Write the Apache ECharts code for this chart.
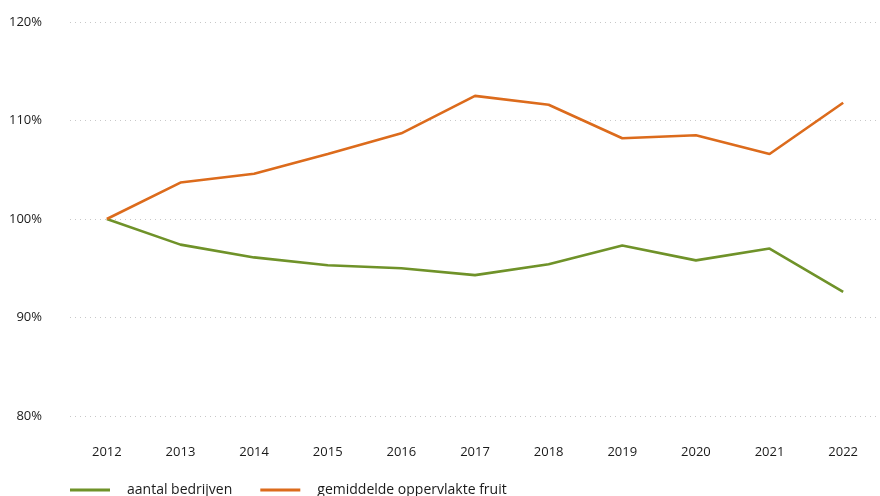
<!DOCTYPE html>
<html>
<head>
<meta charset="utf-8">
<script src="https://cdn.jsdelivr.net/npm/echarts@6/dist/echarts.min.js"></script>
<style>
  html, body { margin: 0; padding: 0; background: #fff; }
  #chart { width: 880px; height: 496px; }
</style>
</head>
<body>
<div id="chart"></div>
<script>
  const years = ['2012', '2013', '2014', '2015', '2016', '2017', '2018', '2019', '2020', '2021', '2022'];
  const bedrijven = [100, 97.4, 96.1, 95.3, 95.0, 94.3, 95.4, 97.3, 95.8, 97.0, 92.6];
  const oppervlakte = [100, 103.7, 104.6, 106.6, 108.7, 112.5, 111.6, 108.2, 108.5, 106.6, 111.8];

  const font = '"Open Sans", "Noto Sans", sans-serif';
  const chart = echarts.init(document.getElementById('chart'));

  chart.setOption({
    animation: false,
    color: ['#6f9229', '#dc6b1c'],
    grid: { top: 22, left: 70, right: -5, bottom: 80 },
    xAxis: {
      type: 'category',
      data: years,
      boundaryGap: true,
      axisLine: { show: false },
      axisTick: { show: false },
      axisLabel: { color: '#1a1a1a', fontSize: 13, fontFamily: font, margin: 30 },
    },
    yAxis: {
      type: 'value',
      min: 80,
      max: 120,
      interval: 10,
      axisLine: { show: false },
      axisTick: { show: false },
      axisLabel: {
        color: '#1a1a1a',
        fontSize: 13,
        fontFamily: font,
        margin: 28,
        formatter: (v) => v + '%',
      },
      splitLine: {
        lineStyle: { type: [1, 4], color: '#c8c8c8', width: 1 },
      },
    },
    legend: {
      left: 70,
      bottom: -1,
      padding: 0,
      icon: 'rect',
      itemWidth: 40,
      itemHeight: 3,
      itemGap: 28,
      textStyle: { color: '#1a1a1a', fontSize: 14, fontFamily: font, padding: [0, 0, 0, 12] },
    },
    series: [
      {
        name: 'aantal bedrijven',
        type: 'line',
        data: bedrijven,
        symbol: 'none',
        lineStyle: { width: 2.6 },
      },
      {
        name: 'gemiddelde oppervlakte fruit',
        type: 'line',
        data: oppervlakte,
        symbol: 'none',
        lineStyle: { width: 2.6 },
      },
    ],
  });
</script>
</body>
</html>
